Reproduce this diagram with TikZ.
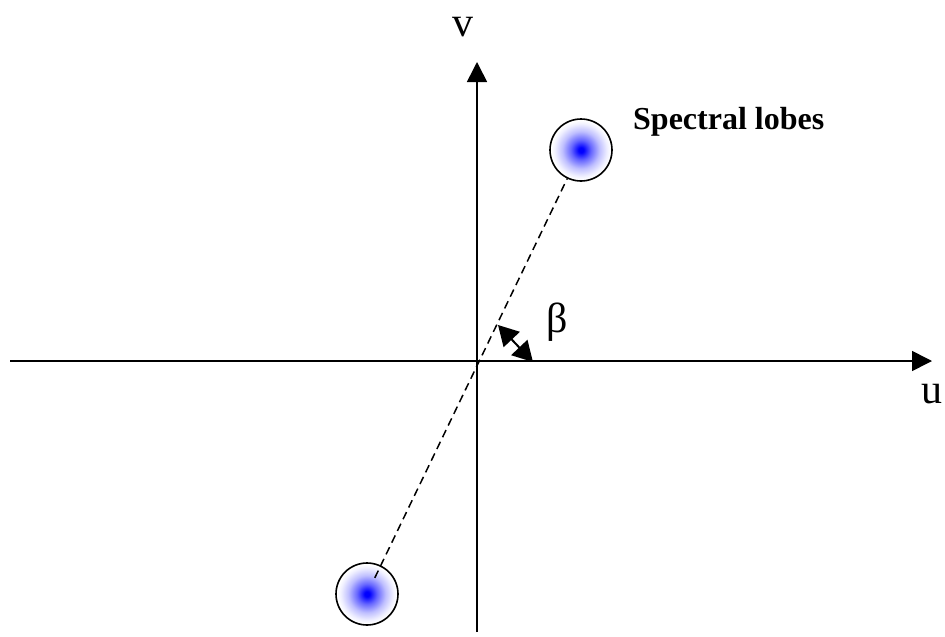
\documentclass[tikz,border=0pt]{standalone}
\usepackage{fontspec}
\setmainfont{Liberation Serif}
\usetikzlibrary{arrows.meta,calc}
\pgfdeclareradialshading{lobeshade}{\pgfpoint{0bp}{0bp}}{color(0bp)=(blue); color(2bp)=(blue); color(8bp)=(blue!60); color(15bp)=(blue!25); color(21bp)=(blue!6); color(24bp)=(white); color(50bp)=(white)}
\tikzset{
  axis/.style={line width=1.6pt, -{Triangle[length=20pt,width=20pt]}},
  lobe/.style={circle, draw, line width=1.6pt, minimum size=62pt, inner sep=0pt, shading=lobeshade},
  dashline/.style={line width=1.5pt, dash pattern=on 8pt off 5pt},
  angarrow/.style={line width=2pt, {Triangle[length=20pt,width=22pt]}-{Triangle[length=20pt,width=22pt]}},
  bigtext/.style={font=\fontsize{42}{42}\selectfont, inner sep=0pt},
}
\begin{document}
\begin{tikzpicture}[x=1pt,y=-1pt]
\useasboundingbox (0,0) rectangle (945,637);
\coordinate (O) at (477,361);
\coordinate (xs) at (10,361);
\coordinate (xe) at (932,361);
\coordinate (ys) at (477,632);
\coordinate (ye) at (477,62);
\draw[axis] (xs) -- (xe);
\draw[axis] (ys) -- (ye);
\node[lobe] (up) at (581,150) {};
\node[lobe] (low) at (367,594) {};
\coordinate (dstart) at ($(low.center)!18pt!(up.center)$);
\draw[dashline] (dstart) -- (up);
\coordinate (b1) at (498,325);
\coordinate (b2) at (533,362);
\draw[angarrow] (b1) -- (b2);
\node[bigtext, anchor=base] (vlab) at (463,36) {v};
\node[bigtext, anchor=base] (ulab) at (932,403) {u};
\node[font=\fontsize{42}{42}\selectfont, inner sep=0pt, anchor=base] (beta) at (557,332) {β};
\node[font=\fontsize{32}{32}\selectfont\bfseries, inner sep=0pt, anchor=base west] (spec) at (633,129) {Spectral lobes};
\end{tikzpicture}
\end{document}
